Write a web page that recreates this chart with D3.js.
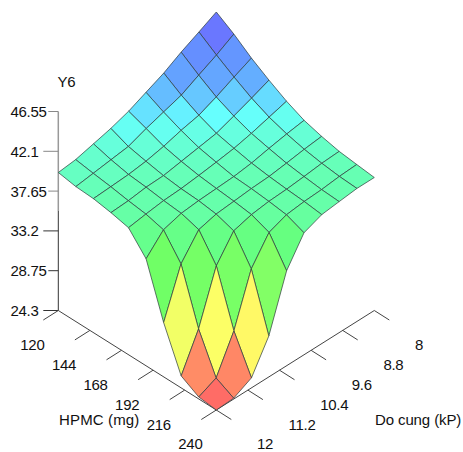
<!DOCTYPE html>
<html>
<head>
<meta charset="utf-8">
<script src="https://cdn.jsdelivr.net/npm/d3@7"></script>
<style>
  body { margin: 0; background: #fff; }
  text { font-family: "Liberation Sans", Arial, sans-serif; font-size: 15px; letter-spacing: -0.3px; fill: #111; }
</style>
</head>
<body>
<script>
var hpmcTicks = [120, 144, 168, 192, 216, 240];
var doCungTicks = [8, 8.8, 9.6, 10.4, 11.2, 12];
var y6Ticks = [46.55, 42.1, 37.65, 33.2, 28.75, 24.3];
var y6Labels = ["46.55", "42.1", "37.65", "33.2", "28.75", "24.3"];

// the surface grid levels
var hpmcLevels = [120, 133.33, 146.67, 160, 173.33, 186.67, 200, 213.33, 226.67, 240];
var doCungLevels = [8, 8.44, 8.89, 9.33, 9.78, 10.22, 10.67, 11.11, 11.56, 12];

// Y6, one row per Do cung level, one column per HPMC level
var y6Values = [
  [46.55, 45.32, 43.87, 42.64, 41.52, 40.62, 40.06, 39.62, 39.39, 39.17],
  [45.54, 44.20, 42.97, 41.85, 40.96, 40.32, 39.84, 39.51, 39.28, 39.17],
  [44.54, 43.20, 42.00, 41.10, 40.40, 39.95, 39.54, 39.28, 39.06, 38.95],
  [43.42, 42.19, 41.18, 40.40, 39.95, 39.54, 39.28, 39.09, 38.95, 38.72],
  [42.52, 41.55, 40.74, 40.06, 39.65, 39.28, 39.17, 38.98, 38.72, 37.94],
  [41.63, 40.93, 40.18, 39.73, 39.39, 39.17, 38.98, 38.72, 37.97, 34.92],
  [40.96, 40.18, 39.76, 39.39, 39.17, 39.06, 38.80, 38.16, 35.15, 28.88],
  [40.46, 39.92, 39.51, 39.32, 39.06, 38.87, 38.28, 35.48, 29.44, 25.42],
  [39.95, 39.65, 39.39, 39.06, 38.80, 38.28, 35.70, 29.67, 25.42, 24.40],
  [39.73, 39.39, 39.28, 38.95, 38.50, 36.26, 30.37, 25.64, 24.52, 24.30]
];

var width = 463, height = 452;
// back corner of the floor, the others follow from the scales
var backX = 216.3, backY = 211;

var hpmcX = d3.scaleLinear().domain([120, 240]).range([0, 158]);
var hpmcY = d3.scaleLinear().domain([120, 240]).range([0, 99.5]);
var doX = d3.scaleLinear().domain([8, 12]).range([0, -158]);
var doY = d3.scaleLinear().domain([8, 12]).range([0, 99.5]);
var zY = d3.scaleLinear().domain([24.3, 46.55]).range([0, 199]);

var color = d3.scaleLinear()
  .domain([24.3, 26.2, 29.9, 34.6, 36, 37.8, 39.3, 40.4, 41.2, 42, 43, 44.1, 45.3, 46.55])
  .range(["#ff6666", "#ff8866", "#ffff66", "#77ff66", "#66ff66", "#66ff88", "#66ffb4", "#66ffdc", "#66ffff",
    "#66ccff", "#64a8ff", "#6496ff", "#6a78ff", "#6666ff"]);

function px(h, d) { return backX + hpmcX(h) + doX(d); }
function py(h, d, z) { return backY + hpmcY(h) + doY(d) - zY(z); }

var svg = d3.select("body").append("svg")
  .attr("width", width)
  .attr("height", height)
  .style("display", "block");

// Y axis, the part above the floor's back corner is grey
var zMin = 24.3, zMax = 46.55;
var zBase = py(120, 12, zMin);
var zSplit = zY.invert(zBase - backY);

svg.append("line")
  .attr("x1", px(120, 12)).attr("x2", px(120, 12))
  .attr("y1", py(120, 12, zMin)).attr("y2", py(120, 12, zSplit))
  .attr("stroke", "#333");
svg.append("line")
  .attr("x1", px(120, 12)).attr("x2", px(120, 12))
  .attr("y1", py(120, 12, zSplit)).attr("y2", py(120, 12, zMax))
  .attr("stroke", "#999").attr("stroke-width", 1.5);

svg.selectAll(".ztick")
  .data(y6Ticks)
  .enter().append("line")
  .attr("class", "ztick")
  .attr("x1", function(d, i) { return px(120, 12) - (i % 2 ? 15 : 10); })
  .attr("x2", px(120, 12))
  .attr("y1", function(d) { return py(120, 12, d); })
  .attr("y2", function(d) { return py(120, 12, d); })
  .attr("stroke", function(d) { return d > zSplit ? "#888" : "#333"; });

svg.selectAll(".zlabel")
  .data(y6Ticks)
  .enter().append("text")
  .attr("class", "zlabel")
  .attr("x", 10.5)
  .attr("y", function(d) { return py(120, 12, d); })
  .attr("dy", "0.36em")
  .text(function(d, i) { return y6Labels[i]; });

// floor axes
svg.append("line")
  .attr("x1", px(120, 12)).attr("y1", py(120, 12, zMin))
  .attr("x2", px(240, 12)).attr("y2", py(240, 12, zMin))
  .attr("stroke", "#444");
svg.append("line")
  .attr("x1", px(240, 8)).attr("y1", py(240, 8, zMin))
  .attr("x2", px(240, 12)).attr("y2", py(240, 12, zMin))
  .attr("stroke", "#444");

svg.selectAll(".htick")
  .data(hpmcTicks)
  .enter().append("line")
  .attr("class", "htick")
  .attr("x1", function(d) { return px(d, 12); })
  .attr("y1", function(d) { return py(d, 12, zMin); })
  .attr("x2", function(d) { return px(d, 12) - 15; })
  .attr("y2", function(d) { return py(d, 12, zMin) + 9.5; })
  .attr("stroke", "#444");

svg.selectAll(".dtick")
  .data(doCungTicks)
  .enter().append("line")
  .attr("class", "dtick")
  .attr("x1", function(d) { return px(240, d); })
  .attr("y1", function(d) { return py(240, d, zMin); })
  .attr("x2", function(d) { return px(240, d) + 15; })
  .attr("y2", function(d) { return py(240, d, zMin) + 9.5; })
  .attr("stroke", "#444");

svg.selectAll(".hlabel")
  .data(hpmcTicks)
  .enter().append("text")
  .attr("class", "hlabel")
  .attr("x", function(d) { return px(d, 12) - 38; })
  .attr("y", function(d) { return py(d, 12, zMin) + 34; })
  .attr("dy", "0.36em")
  .text(function(d) { return d; });

svg.selectAll(".dlabel")
  .data(doCungTicks)
  .enter().append("text")
  .attr("class", "dlabel")
  .attr("x", function(d) { return px(240, d) + 40.7; })
  .attr("y", function(d) { return py(240, d, zMin) + 34; })
  .attr("dy", "0.36em")
  .text(function(d) { return d; });

svg.append("text").attr("x", 57.5).attr("y", 87).text("Y6");
svg.append("text").attr("x", 59).attr("y", 425).attr("textLength", 80).text("HPMC (mg)");
svg.append("text").attr("x", 375).attr("y", 425).attr("textLength", 86).text("Do cung (kP)");

// surface cells, back to front so the nearer ones cover the rest
var cells = [];
doCungLevels.slice(0, -1).forEach(function(d, j) {
  hpmcLevels.slice(0, -1).forEach(function(h, i) {
    var corners = [[i, j], [i + 1, j], [i + 1, j + 1], [i, j + 1]];
    cells.push({
      order: i + j,
      points: corners.map(function(c) {
        var z = y6Values[c[1]][c[0]];
        return [px(hpmcLevels[c[0]], doCungLevels[c[1]]), py(hpmcLevels[c[0]], doCungLevels[c[1]], z)];
      }),
      mean: d3.mean(corners, function(c) { return y6Values[c[1]][c[0]]; })
    });
  });
});
cells.sort(function(a, b) { return a.order - b.order; });

svg.selectAll(".cell")
  .data(cells)
  .enter().append("path")
  .attr("class", "cell")
  .attr("d", function(d) { return d3.line()(d.points) + "Z"; })
  .attr("fill", function(d) { return color(d.mean); })
  .attr("stroke", "#2f3f3f")
  .attr("stroke-width", 0.9)
  .attr("stroke-opacity", 0.8)
  .attr("stroke-linejoin", "round");
</script>
</body>
</html>
